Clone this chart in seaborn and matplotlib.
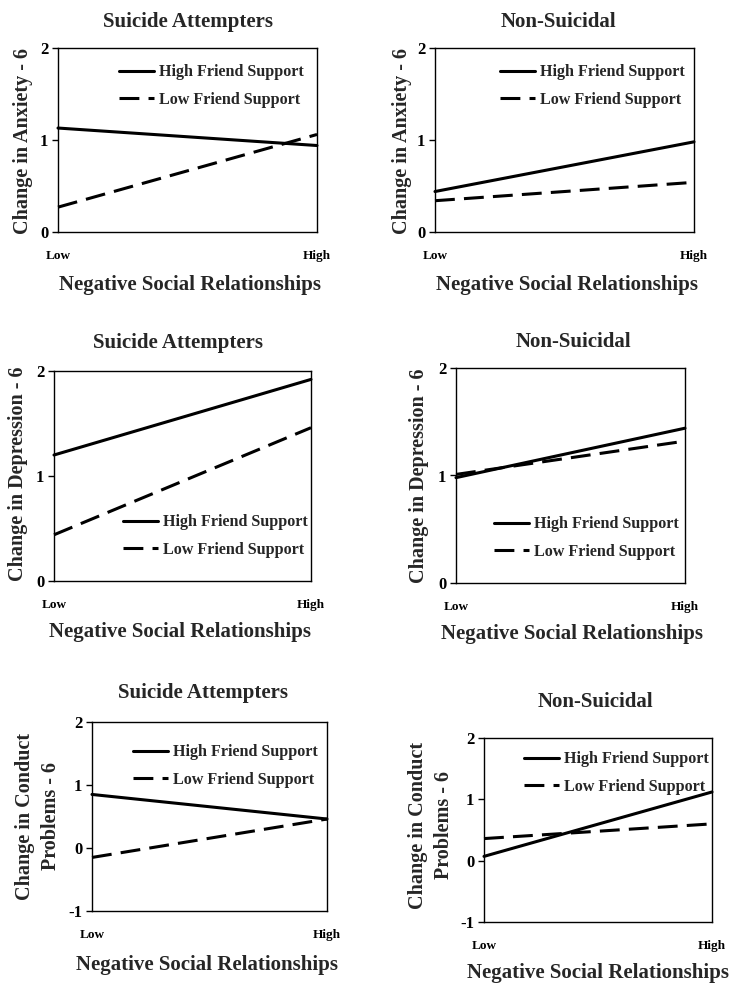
import pandas as pd
import matplotlib
matplotlib.use("Agg")
import matplotlib.pyplot as plt
import seaborn as sns

# x categories and series labels
levels = ["Low", "High"]
support = ["High Friend Support", "Low Friend Support"]

# values (estimated)
anx_sa_high = [1.13, 0.94]
anx_sa_low = [0.27, 1.06]
anx_ns_high = [0.44, 0.98]
anx_ns_low = [0.34, 0.54]
dep_sa_high = [1.20, 1.92]
dep_sa_low = [0.44, 1.46]
dep_ns_high = [0.98, 1.44]
dep_ns_low = [1.01, 1.32]
con_sa_high = [0.85, 0.46]
con_sa_low = [-0.15, 0.46]
con_ns_high = [0.07, 1.12]
con_ns_low = [0.36, 0.60]

titles = ["Suicide Attempters", "Non-Suicidal"] * 3
ylabels = ["Change in Anxiety - 6"] * 2 + ["Change in Depression - 6"] * 2 + \
          ["Change in Conduct\nProblems - 6"] * 2
yticks_sets = [[0, 1, 2]] * 4 + [[-1, 0, 1, 2]] * 2
xlabel = "Negative Social Relationships"

W, H = 741, 996
sns.set_theme(style="white")
plt.rcParams['font.family'] = ['Liberation Serif', 'DejaVu Serif']
plt.rcParams['font.weight'] = 'bold'

fig = plt.figure(figsize=(W / 100, H / 100), dpi=100)

# layout in pixels: axes box (l, t, r, b), title, xlabel, ylabel centres, legend anchor
panels = [
    dict(high=anx_sa_high, low=anx_sa_low, box=(58, 48, 317, 232), title=(188, 22),
         xl=(190, 285), yl=(23, 141), leg=(119, 86)),
    dict(high=anx_ns_high, low=anx_ns_low, box=(435, 48, 694, 232), title=(558, 22),
         xl=(567, 285), yl=(402, 141), leg=(500, 86)),
    dict(high=dep_sa_high, low=dep_sa_low, box=(54, 371, 311, 581), title=(178, 343),
         xl=(180, 632), yl=(18, 474), leg=(123, 536)),
    dict(high=dep_ns_high, low=dep_ns_low, box=(456, 368, 685, 583), title=(573, 342),
         xl=(572, 634), yl=(419, 476), leg=(494, 538)),
    dict(high=con_sa_high, low=con_sa_low, box=(92, 722, 327, 911), title=(203, 693),
         xl=(207, 965), yl=(38, 816), leg=(133, 766)),
    dict(high=con_ns_high, low=con_ns_low, box=(484, 738, 712, 922), title=(595, 702),
         xl=(598, 973), yl=(431, 825), leg=(524, 773)),
]

for i, p in enumerate(panels):
    l, t, r, b = p["box"]
    ax = fig.add_axes([l / W, 1 - b / H, (r - l) / W, (b - t) / H])

    df = pd.DataFrame({
        "level": levels * 2,
        "value": p["high"] + p["low"],
        "support": [support[0]] * 2 + [support[1]] * 2,
    })
    sns.lineplot(data=df, x="level", y="value", style="support", style_order=support,
                 dashes={support[0]: "", support[1]: (6.5, 3)}, color="black",
                 linewidth=2.2, ax=ax, clip_on=False)

    yt = yticks_sets[i]
    ax.set_ylim(yt[0], yt[-1])
    ax.set_yticks(yt)
    ax.set_yticklabels([str(v) for v in yt], fontsize=12, fontweight='bold')
    ax.set_xlim(0, 1)
    ax.set_xticks([0, 1])
    ax.set_xticklabels(levels, fontsize=9.5, fontweight='bold')
    ax.tick_params(axis='y', direction='out', length=4, width=1, pad=3, left=True, colors='black')
    ax.tick_params(axis='x', length=0, pad=13, colors='black')
    for s in ax.spines.values():
        s.set_color('black')
        s.set_linewidth(1.0)
    ax.set_xlabel("")
    ax.set_ylabel("")

    fig.text(p["title"][0] / W, 1 - p["title"][1] / H, titles[i], ha='center', va='center',
             fontsize=15, fontweight='bold')
    fig.text(p["xl"][0] / W, 1 - p["xl"][1] / H, xlabel, ha='center', va='center',
             fontsize=15, fontweight='bold')
    fig.text(p["yl"][0] / W, 1 - p["yl"][1] / H, ylabels[i], ha='center', va='center',
             rotation=90, fontsize=14.5, fontweight='bold', linespacing=1.4)

    lx = (p["leg"][0] - l) / (r - l)
    ly = (b - p["leg"][1]) / (b - t)
    ax.legend(loc='center left', bbox_to_anchor=(lx, ly), frameon=False,
              handlelength=2.2, handletextpad=0.3, labelspacing=0.72, borderpad=0,
              borderaxespad=0, prop={'weight': 'bold', 'size': 11.6})

fig.savefig("out.png", dpi=100, facecolor='white')
